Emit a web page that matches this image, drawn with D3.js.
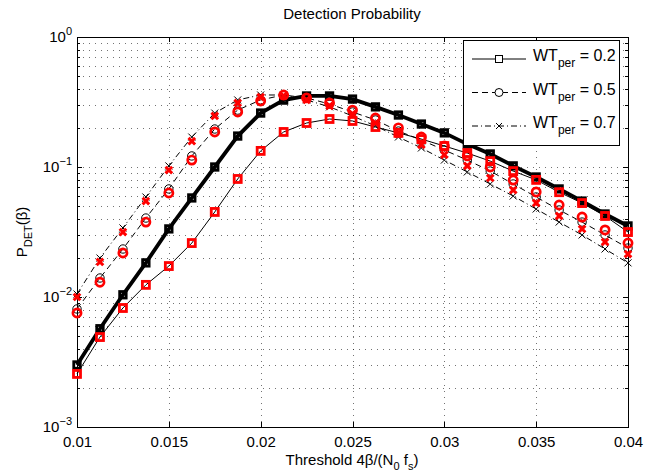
<html>
<head>
<script src="https://cdn.jsdelivr.net/npm/d3@7"></script>
<style>
  body { margin: 0; background: #fff; }
  text { font-family: "Liberation Sans", Arial, sans-serif; fill: #000; }
  .grid line { stroke: #000; stroke-opacity: 0.55; stroke-dasharray: 1,5; shape-rendering: crispEdges; }
  .axis path, .axis line { stroke: #000; shape-rendering: crispEdges; }
</style>
</head>
<body>
<svg id="plot" width="665" height="473"></svg>
<script>
// threshold values (x)
const thresholds = [0.01, 0.01125, 0.0125, 0.01375, 0.015, 0.01625, 0.0175, 0.01875, 0.02, 0.02125,
  0.0225, 0.02375, 0.025, 0.02625, 0.0275, 0.02875, 0.03, 0.03125, 0.0325, 0.03375,
  0.035, 0.03625, 0.0375, 0.03875, 0.04];

// WT_per = 0.2, thick line with black squares
const sqThick = [0.0030, 0.0057, 0.0104, 0.0183, 0.0334, 0.0578, 0.100, 0.173, 0.260, 0.327,
  0.352, 0.352, 0.333, 0.290, 0.251, 0.214, 0.183, 0.150, 0.126, 0.102,
  0.0838, 0.0678, 0.0547, 0.0435, 0.0352];
// thin solid line with red squares
const sqRed = [0.00256, 0.00492, 0.00823, 0.0124, 0.0173, 0.0260, 0.0451, 0.0809, 0.133, 0.186,
  0.218, 0.234, 0.226, 0.203, 0.183, 0.164, 0.145, 0.128, 0.111, 0.093,
  0.0796, 0.064, 0.0528, 0.042, 0.0316];
// WT_per = 0.5, dashed line with black circles
const circBlack = [0.00809, 0.0140, 0.0234, 0.0405, 0.0678, 0.1216, 0.196, 0.274, 0.328, 0.358,
  0.340, 0.305, 0.265, 0.230, 0.189, 0.161, 0.135, 0.113, 0.0931, 0.0740,
  0.0588, 0.0467, 0.0377, 0.0300, 0.0238];
const circRed = [0.00753, 0.0130, 0.0218, 0.0377, 0.0631, 0.113, 0.186, 0.265, 0.322, 0.358,
  0.340, 0.311, 0.274, 0.238, 0.200, 0.170, 0.145, 0.122, 0.100, 0.0794,
  0.0643, 0.0510, 0.0412, 0.0328, 0.0260];
// WT_per = 0.7, dash-dot line with black crosses
const crossBlack = [0.01054, 0.01995, 0.0340, 0.0588, 0.102, 0.170, 0.260, 0.328, 0.358, 0.358,
  0.328, 0.290, 0.247, 0.207, 0.170, 0.140, 0.113, 0.0916, 0.0740, 0.0598,
  0.0475, 0.0377, 0.0300, 0.0234, 0.0183];
const crossRed = [0.0100, 0.0186, 0.0316, 0.0547, 0.0948, 0.158, 0.247, 0.311, 0.345, 0.352,
  0.328, 0.295, 0.256, 0.218, 0.179, 0.148, 0.124, 0.102, 0.0823, 0.0665,
  0.0529, 0.0420, 0.0334, 0.0265, 0.0214];

const xTicks = [0.01, 0.015, 0.02, 0.025, 0.03, 0.035, 0.04];
const xTickLabels = ["0.01", "0.015", "0.02", "0.025", "0.03", "0.035", "0.04"];
const yTicks = [1e-3, 1e-2, 1e-1, 1];
const yTickExp = ["\u22123", "\u22122", "\u22121", "0"];
const yMinor = [2e-3, 3e-3, 4e-3, 5e-3, 6e-3, 7e-3, 8e-3, 9e-3, 2e-2, 3e-2, 4e-2, 5e-2, 6e-2, 7e-2, 8e-2, 9e-2,
  0.2, 0.3, 0.4, 0.5, 0.6, 0.7, 0.8, 0.9];
const legendLabels = ["0.2", "0.5", "0.7"];

const svg = d3.select("#plot");
const pl = 77, pr = 628, pt = 37, pb = 427;
const x = d3.scaleLinear().domain([0.01, 0.04]).range([pl, pr]);
const y = d3.scaleLog().domain([1e-3, 1]).range([pb, pt]);

svg.append("rect").attr("x", pl).attr("y", pt).attr("width", pr - pl).attr("height", pb - pt).attr("fill", "#fff");

// grid
const grid = svg.append("g").attr("class", "grid");
grid.selectAll(".h").data(yMinor.concat([1e-2, 1e-1])).join("line")
  .attr("x1", pl).attr("x2", pr)
  .attr("y1", d => Math.round(y(d)) + 0.5).attr("y2", d => Math.round(y(d)) + 0.5);
grid.selectAll(".v").data(xTicks.slice(1, -1)).join("line")
  .attr("y1", pt).attr("y2", pb)
  .attr("x1", d => Math.round(x(d)) + 0.5).attr("x2", d => Math.round(x(d)) + 0.5);

// axes with inward ticks on all four sides
const xb = svg.append("g").attr("class", "axis").attr("transform", `translate(0,${pb})`)
  .call(d3.axisBottom(x).tickValues(xTicks).tickSize(-5).tickSizeOuter(0).tickPadding(9)
    .tickFormat((d, i) => xTickLabels[i]));
xb.selectAll("text").style("font-size", "15px");
svg.append("g").attr("class", "axis").attr("transform", `translate(0,${pt})`)
  .call(d3.axisTop(x).tickValues(xTicks).tickSize(-5).tickSizeOuter(0).tickFormat(""));
svg.append("g").attr("class", "axis").attr("transform", `translate(${pl},0)`)
  .call(d3.axisLeft(y).tickValues(yTicks).tickSize(-5).tickSizeOuter(0).tickFormat(""));
svg.append("g").attr("class", "axis").attr("transform", `translate(${pl},0)`)
  .call(d3.axisLeft(y).tickValues(yMinor).tickSize(-3).tickSizeOuter(0).tickFormat(""));
svg.append("g").attr("class", "axis").attr("transform", `translate(${pr},0)`)
  .call(d3.axisRight(y).tickValues(yTicks).tickSize(-5).tickSizeOuter(0).tickFormat(""));
svg.append("g").attr("class", "axis").attr("transform", `translate(${pr},0)`)
  .call(d3.axisRight(y).tickValues(yMinor).tickSize(-3).tickSizeOuter(0).tickFormat(""));

// y tick labels 10^k
yTicks.forEach((v, i) => {
  const t = svg.append("text").attr("x", pl - 5).attr("y", y(v) + 5)
    .attr("text-anchor", "end").style("font-size", "15px");
  t.append("tspan").text("10");
  t.append("tspan").attr("dy", -7).style("font-size", "11px").text(yTickExp[i]);
});

// title and axis labels
svg.append("text").attr("x", 352).attr("y", 19).attr("text-anchor", "middle")
  .style("font-size", "15px").text("Detection Probability");

const xl = svg.append("text").attr("x", 352).attr("y", 465).attr("text-anchor", "middle").style("font-size", "15px");
xl.append("tspan").text("Threshold 4\u03b2/(N");
xl.append("tspan").attr("dy", 5).style("font-size", "11px").text("0");
xl.append("tspan").attr("dy", -5).text(" f");
xl.append("tspan").attr("dy", 5).style("font-size", "11px").text("s");
xl.append("tspan").attr("dy", -5).text(")");

const yl = svg.append("text").attr("transform", "translate(27,232) rotate(-90)")
  .attr("text-anchor", "middle").style("font-size", "15px");
yl.append("tspan").text("P");
yl.append("tspan").attr("dy", 5).style("font-size", "11px").text("DET");
yl.append("tspan").attr("dy", -5).text("(\u03b2)");

// lines
const line = vals => d3.line().x((d, i) => x(thresholds[i])).y(d => y(d))(vals);
const plot = svg.append("g");
plot.append("path").attr("d", line(sqRed)).attr("fill", "none").attr("stroke", "#000").attr("stroke-width", 1);
plot.append("path").attr("d", line(circBlack)).attr("fill", "none").attr("stroke", "#000").attr("stroke-width", 1).attr("stroke-dasharray", "6,4");
plot.append("path").attr("d", line(crossBlack)).attr("fill", "none").attr("stroke", "#000").attr("stroke-width", 1).attr("stroke-dasharray", "6,3,1,3");
plot.append("path").attr("d", line(sqThick)).attr("fill", "none").attr("stroke", "#000").attr("stroke-width", 3.8);

// marker helpers
function squares(g, vals, color, s, w) {
  g.selectAll(null).data(vals).join("rect")
    .attr("x", (d, i) => x(thresholds[i]) - s / 2).attr("y", d => y(d) - s / 2)
    .attr("width", s).attr("height", s)
    .attr("fill", "none").attr("stroke", color).attr("stroke-width", w);
}
function circles(g, vals, color, r, w) {
  g.selectAll(null).data(vals).join("circle")
    .attr("cx", (d, i) => x(thresholds[i])).attr("cy", d => y(d)).attr("r", r)
    .attr("fill", "none").attr("stroke", color).attr("stroke-width", w);
}
function crosses(g, vals, color, h, w) {
  g.selectAll(null).data(vals).join("path")
    .attr("d", (d, i) => {
      const cx = x(thresholds[i]), cy = y(d);
      return `M${cx - h},${cy - h}L${cx + h},${cy + h}M${cx - h},${cy + h}L${cx + h},${cy - h}`;
    })
    .attr("fill", "none").attr("stroke", color).attr("stroke-width", w);
}

squares(plot.append("g"), sqThick, "#000", 6.5, 2.8);
circles(plot.append("g"), circBlack, "#000", 4.2, 1);
crosses(plot.append("g"), crossBlack, "#000", 3.5, 1);
squares(plot.append("g"), sqRed, "#f00", 7, 2.8);
circles(plot.append("g"), circRed, "#f00", 4.1, 2.7);
crosses(plot.append("g"), crossRed, "#f00", 3.3, 3);

// legend
const lg = svg.append("g");
lg.append("rect").attr("x", 463.5).attr("y", 40.5).attr("width", 156).attr("height", 105)
  .attr("fill", "#fff").attr("stroke", "#000").attr("stroke-width", 1);
const dashes = [null, "6,4", "6,3,1,3"];
legendLabels.forEach((lab, i) => {
  const cy = 59 + i * 33.5;
  lg.append("line").attr("x1", 472).attr("x2", 526).attr("y1", cy).attr("y2", cy)
    .attr("stroke", "#000").attr("stroke-width", 1).attr("stroke-dasharray", dashes[i]);
  if (i === 0) lg.append("rect").attr("x", 495.5).attr("y", cy - 3.5).attr("width", 7).attr("height", 7)
    .attr("fill", "#fff").attr("stroke", "#000");
  if (i === 1) lg.append("circle").attr("cx", 499).attr("cy", cy).attr("r", 4)
    .attr("fill", "#fff").attr("stroke", "#000");
  if (i === 2) lg.append("path").attr("d", `M${496},${cy - 3}L${502},${cy + 3}M${496},${cy + 3}L${502},${cy - 3}`)
    .attr("stroke", "#000");
  const t = lg.append("text").attr("x", 533).attr("y", cy + 2).style("font-size", "16px");
  t.append("tspan").text("WT");
  t.append("tspan").attr("dy", 6).style("font-size", "12px").text("per");
  t.append("tspan").attr("dy", -6).text(" = " + lab);
});
</script>
</body>
</html>
